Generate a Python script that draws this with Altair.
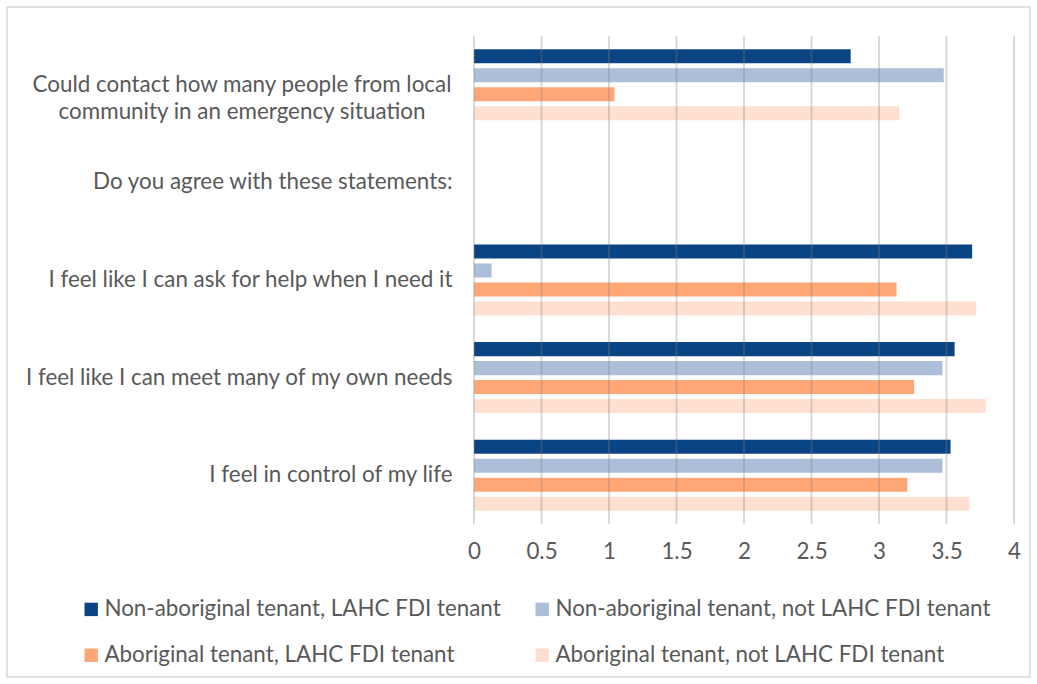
import altair as alt
import pandas as pd

categories = [
    "Could contact how many people from local\ncommunity in an emergency situation",
    "Do you agree with these statements:",
    "I feel like I can ask for help when I need it",
    "I feel like I can meet many of my own needs",
    "I feel in control of my life",
]
series = [
    "Non-aboriginal tenant, LAHC FDI tenant",
    "Non-aboriginal tenant, not LAHC FDI tenant",
    "Aboriginal tenant, LAHC FDI tenant",
    "Aboriginal tenant, not LAHC FDI tenant",
]
colors = ["#0B4483", "#ADBED8", "#FFA677", "#FFDFD0"]

values = {
    categories[0]: [2.79, 3.48, 1.04, 3.15],
    categories[2]: [3.69, 0.13, 3.13, 3.72],
    categories[3]: [3.56, 3.47, 3.26, 3.79],
    categories[4]: [3.53, 3.47, 3.21, 3.67],
}
tick_values = [0, 0.5, 1, 1.5, 2, 2.5, 3, 3.5, 4]

rows = []
for cat, vals in values.items():
    for s, v in zip(series, vals):
        rows.append({"category": cat, "series": s, "value": v})
df = pd.DataFrame(rows)
ticks_df = pd.DataFrame({"t": tick_values})
multi_df = pd.DataFrame({"category": [c for c in categories if "\n" in c]})

FONT = "Lato"
FS = 22.4
TXT = "#595959"

xscale = alt.Scale(domain=[0, 4], nice=False, zero=True)
yscale = alt.Scale(domain=categories, paddingInner=0, paddingOuter=0)

bars = alt.Chart(df).mark_bar().encode(
    x=alt.X("value:Q", scale=xscale,
            axis=alt.Axis(values=tick_values, title=None, grid=False, domain=False,
                          ticks=False, labelFontSize=FS, labelColor=TXT, labelFont=FONT,
                          labelPadding=16, labelFlush=False, format="~g")),
    y=alt.Y("category:N", sort=categories, scale=yscale,
            axis=alt.Axis(title=None, domain=False, ticks=False, labelFontSize=FS,
                          labelColor=TXT, labelFont=FONT, labelLimit=700,
                          labelPadding=22,
                          labelExpr="indexof(datum.label, '\\n') >= 0 ? '' : datum.label")),
    yOffset=alt.YOffset("series:N", sort=series,
                        scale=alt.Scale(domain=series, paddingInner=0.26, paddingOuter=0.7)),
    color=alt.Color("series:N", sort=series,
                    scale=alt.Scale(domain=series, range=colors),
                    legend=alt.Legend(title=None, orient="none", legendX=-394, legendY=562,
                                      columns=2, direction="horizontal",
                                      symbolType="square", symbolSize=180,
                                      symbolStrokeWidth=0,
                                      labelFontSize=FS, labelColor=TXT, labelFont=FONT,
                                      labelLimit=700, columnPadding=30, rowPadding=23,
                                      labelOffset=2)),
)

multi_label = alt.Chart(multi_df).transform_calculate(
    lines="split(datum.category, '\\n')"
).mark_text(font=FONT, fontSize=FS, color=TXT, align="center", baseline="middle",
            lineHeight=27).encode(
    y=alt.Y("category:N", sort=categories, scale=yscale),
    x=alt.value(-232),
    text="lines:N",
)

grid = alt.Chart(ticks_df).mark_rule(color="#808080", opacity=0.3, strokeWidth=2).encode(
    x=alt.X("t:Q", scale=xscale),
)

frame = alt.Chart(ticks_df.head(1)).mark_rect(fill=None, stroke="#d9d9d9", strokeWidth=1.5).encode(
    x=alt.value(-467), x2=alt.value(556), y=alt.value(-29), y2=alt.value(641)
)

chart = alt.layer(bars, grid, multi_label, frame).properties(
    width=540, height=488,
    autosize=alt.AutoSizeParams(type="none"),
    padding={"left": 474, "top": 36, "right": 23, "bottom": 160},
    background="white",
).configure_view(stroke=None)

chart.save("out.html", embed_options={"renderer": "svg", "actions": False})
